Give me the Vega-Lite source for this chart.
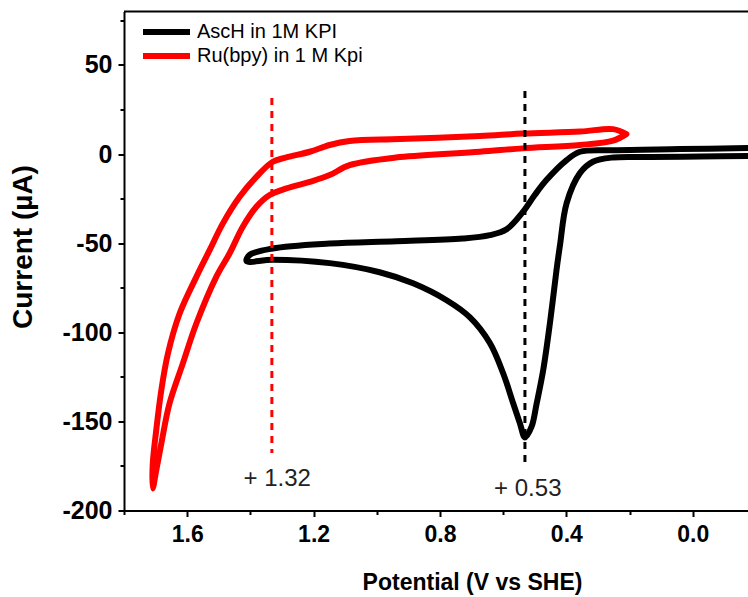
{
  "$schema": "https://vega.github.io/schema/vega-lite/v6.json",
  "width": 624,
  "height": 499,
  "autosize": {"type": "none"},
  "padding": {"left": 124, "top": 11.5, "right": 0, "bottom": 86.5},
  "background": "white",
  "config": {
    "font": "Liberation Sans, Arial",
    "view": {"stroke": null},
    "axis": {
      "domainColor": "black",
      "domainWidth": 2,
      "tickColor": "black",
      "tickWidth": 2,
      "labelColor": "black",
      "labelFont": "Liberation Sans, Arial",
      "labelFontWeight": "bold",
      "labelFontSize": 25,
      "titleFont": "Liberation Sans, Arial",
      "titleFontWeight": "bold",
      "titleColor": "black",
      "grid": false
    }
  },
  "datasets": {
    "cv": [
      {"series": "AscH in 1M KPI", "i": 1, "V": -0.18, "I": -1.1},
      {"series": "AscH in 1M KPI", "i": 2, "V": -0.023, "I": -1.4},
      {"series": "AscH in 1M KPI", "i": 3, "V": 0.135, "I": -1.7},
      {"series": "AscH in 1M KPI", "i": 4, "V": 0.252, "I": -1.9},
      {"series": "AscH in 1M KPI", "i": 5, "V": 0.316, "I": -4.3},
      {"series": "AscH in 1M KPI", "i": 6, "V": 0.357, "I": -10.7},
      {"series": "AscH in 1M KPI", "i": 7, "V": 0.399, "I": -27.5},
      {"series": "AscH in 1M KPI", "i": 8, "V": 0.42, "I": -51},
      {"series": "AscH in 1M KPI", "i": 9, "V": 0.431, "I": -65},
      {"series": "AscH in 1M KPI", "i": 10, "V": 0.452, "I": -95},
      {"series": "AscH in 1M KPI", "i": 11, "V": 0.473, "I": -121},
      {"series": "AscH in 1M KPI", "i": 12, "V": 0.494, "I": -140},
      {"series": "AscH in 1M KPI", "i": 13, "V": 0.51, "I": -153},
      {"series": "AscH in 1M KPI", "i": 14, "V": 0.531, "I": -159},
      {"series": "AscH in 1M KPI", "i": 15, "V": 0.547, "I": -151},
      {"series": "AscH in 1M KPI", "i": 16, "V": 0.568, "I": -140},
      {"series": "AscH in 1M KPI", "i": 17, "V": 0.6, "I": -123},
      {"series": "AscH in 1M KPI", "i": 18, "V": 0.642, "I": -106},
      {"series": "AscH in 1M KPI", "i": 19, "V": 0.705, "I": -91.6},
      {"series": "AscH in 1M KPI", "i": 20, "V": 0.779, "I": -82},
      {"series": "AscH in 1M KPI", "i": 21, "V": 0.885, "I": -72.5},
      {"series": "AscH in 1M KPI", "i": 22, "V": 0.991, "I": -66.3},
      {"series": "AscH in 1M KPI", "i": 23, "V": 1.149, "I": -61.2},
      {"series": "AscH in 1M KPI", "i": 24, "V": 1.33, "I": -59.3},
      {"series": "AscH in 1M KPI", "i": 25, "V": 1.412, "I": -60.1},
      {"series": "AscH in 1M KPI", "i": 26, "V": 1.403, "I": -56.7},
      {"series": "AscH in 1M KPI", "i": 27, "V": 1.33, "I": -53},
      {"series": "AscH in 1M KPI", "i": 28, "V": 1.149, "I": -50.2},
      {"series": "AscH in 1M KPI", "i": 29, "V": 0.938, "I": -48.9},
      {"series": "AscH in 1M KPI", "i": 30, "V": 0.728, "I": -47.4},
      {"series": "AscH in 1M KPI", "i": 31, "V": 0.642, "I": -45.5},
      {"series": "AscH in 1M KPI", "i": 32, "V": 0.589, "I": -42.2},
      {"series": "AscH in 1M KPI", "i": 33, "V": 0.538, "I": -32.6},
      {"series": "AscH in 1M KPI", "i": 34, "V": 0.5, "I": -23},
      {"series": "AscH in 1M KPI", "i": 35, "V": 0.463, "I": -14.6},
      {"series": "AscH in 1M KPI", "i": 36, "V": 0.399, "I": -3.4},
      {"series": "AscH in 1M KPI", "i": 37, "V": 0.357, "I": 1.3},
      {"series": "AscH in 1M KPI", "i": 38, "V": 0.252, "I": 2.2},
      {"series": "AscH in 1M KPI", "i": 39, "V": 0.04, "I": 2.8},
      {"series": "AscH in 1M KPI", "i": 40, "V": -0.18, "I": 3.4},
      {"series": "Ru(bpy) in 1 M Kpi", "i": 1, "V": 0.21, "I": 11.2},
      {"series": "Ru(bpy) in 1 M Kpi", "i": 2, "V": 0.252, "I": 14},
      {"series": "Ru(bpy) in 1 M Kpi", "i": 3, "V": 0.356, "I": 12.6},
      {"series": "Ru(bpy) in 1 M Kpi", "i": 4, "V": 0.538, "I": 11.5},
      {"series": "Ru(bpy) in 1 M Kpi", "i": 5, "V": 0.674, "I": 10.1},
      {"series": "Ru(bpy) in 1 M Kpi", "i": 6, "V": 0.927, "I": 8.4},
      {"series": "Ru(bpy) in 1 M Kpi", "i": 7, "V": 1.086, "I": 7.3},
      {"series": "Ru(bpy) in 1 M Kpi", "i": 8, "V": 1.149, "I": 5.1},
      {"series": "Ru(bpy) in 1 M Kpi", "i": 9, "V": 1.212, "I": 1.3},
      {"series": "Ru(bpy) in 1 M Kpi", "i": 10, "V": 1.286, "I": -1.9},
      {"series": "Ru(bpy) in 1 M Kpi", "i": 11, "V": 1.329, "I": -4.3},
      {"series": "Ru(bpy) in 1 M Kpi", "i": 12, "V": 1.381, "I": -12.8},
      {"series": "Ru(bpy) in 1 M Kpi", "i": 13, "V": 1.434, "I": -24},
      {"series": "Ru(bpy) in 1 M Kpi", "i": 14, "V": 1.487, "I": -38.9},
      {"series": "Ru(bpy) in 1 M Kpi", "i": 15, "V": 1.529, "I": -53.9},
      {"series": "Ru(bpy) in 1 M Kpi", "i": 16, "V": 1.571, "I": -68.9},
      {"series": "Ru(bpy) in 1 M Kpi", "i": 17, "V": 1.624, "I": -89.5},
      {"series": "Ru(bpy) in 1 M Kpi", "i": 18, "V": 1.661, "I": -112},
      {"series": "Ru(bpy) in 1 M Kpi", "i": 19, "V": 1.682, "I": -132.6},
      {"series": "Ru(bpy) in 1 M Kpi", "i": 20, "V": 1.698, "I": -155},
      {"series": "Ru(bpy) in 1 M Kpi", "i": 21, "V": 1.709, "I": -173.8},
      {"series": "Ru(bpy) in 1 M Kpi", "i": 22, "V": 1.709, "I": -187.6},
      {"series": "Ru(bpy) in 1 M Kpi", "i": 23, "V": 1.698, "I": -177.5},
      {"series": "Ru(bpy) in 1 M Kpi", "i": 24, "V": 1.682, "I": -162.5},
      {"series": "Ru(bpy) in 1 M Kpi", "i": 25, "V": 1.656, "I": -140},
      {"series": "Ru(bpy) in 1 M Kpi", "i": 26, "V": 1.614, "I": -117.6},
      {"series": "Ru(bpy) in 1 M Kpi", "i": 27, "V": 1.571, "I": -95.1},
      {"series": "Ru(bpy) in 1 M Kpi", "i": 28, "V": 1.508, "I": -68.9},
      {"series": "Ru(bpy) in 1 M Kpi", "i": 29, "V": 1.466, "I": -55.8},
      {"series": "Ru(bpy) in 1 M Kpi", "i": 30, "V": 1.424, "I": -40.8},
      {"series": "Ru(bpy) in 1 M Kpi", "i": 31, "V": 1.381, "I": -29.6},
      {"series": "Ru(bpy) in 1 M Kpi", "i": 32, "V": 1.339, "I": -23},
      {"series": "Ru(bpy) in 1 M Kpi", "i": 33, "V": 1.286, "I": -19.3},
      {"series": "Ru(bpy) in 1 M Kpi", "i": 34, "V": 1.212, "I": -15.6},
      {"series": "Ru(bpy) in 1 M Kpi", "i": 35, "V": 1.149, "I": -11.8},
      {"series": "Ru(bpy) in 1 M Kpi", "i": 36, "V": 1.086, "I": -6.2},
      {"series": "Ru(bpy) in 1 M Kpi", "i": 37, "V": 0.927, "I": -1.7},
      {"series": "Ru(bpy) in 1 M Kpi", "i": 38, "V": 0.674, "I": 1.3},
      {"series": "Ru(bpy) in 1 M Kpi", "i": 39, "V": 0.538, "I": 3.2},
      {"series": "Ru(bpy) in 1 M Kpi", "i": 40, "V": 0.356, "I": 5.1},
      {"series": "Ru(bpy) in 1 M Kpi", "i": 41, "V": 0.252, "I": 7.6},
      {"series": "Ru(bpy) in 1 M Kpi", "i": 42, "V": 0.21, "I": 11.2}
    ],
    "marks": [
      {"name": "AscH", "V": 0.531, "I": 35.4, "I2": -176},
      {"name": "Ru", "V": 1.332, "I": 31.4, "I2": -167.8}
    ],
    "labels": [
      {"label": "+ 1.32", "V": 1.315, "I": -186},
      {"label": "+ 0.53", "V": 0.522, "I": -192}
    ]
  },
  "layer": [
    {
      "data": {"values": [{"edge": "top"}]},
      "mark": {"type": "rule", "color": "black", "strokeWidth": 2},
      "encoding": {"y": {"datum": 80}}
    },
    {
      "data": {"name": "cv"},
      "mark": {"type": "line", "strokeWidth": 6, "interpolate": "catmull-rom", "clip": true, "strokeCap": "round", "strokeJoin": "round"},
      "encoding": {
        "x": {
          "field": "V", "type": "quantitative",
          "scale": {"domain": [-0.175, 1.8], "reverse": true, "nice": false, "zero": false},
          "axis": {
            "title": "Potential (V vs SHE)",
            "titleFontSize": 23,
            "titleX": 348,
            "titleY": 79,
            "titleAlign": "center",
            "titleBaseline": "alphabetic",
            "values": [1.8, 1.6, 1.4, 1.2, 1.0, 0.8, 0.6, 0.4, 0.2, 0.0],
            "labelExpr": "indexof(['1.6','1.2','0.8','0.4','0.0'], format(datum.value,'.1f')) >= 0 ? format(datum.value,'.1f') : ''",
            "tickSize": {"condition": {"test": "indexof(['1.6','1.2','0.8','0.4','0.0'], format(datum.value,'.1f')) >= 0", "value": 6}, "value": 4},
            "labelFontSize": 23,
            "labelPadding": 7,
            "labelFlush": false,
            "labelOverlap": false
          }
        },
        "y": {
          "field": "I", "type": "quantitative",
          "scale": {"domain": [-200, 80], "nice": false, "zero": false},
          "axis": {
            "title": "Current (µA)",
            "titleFontSize": 28,
            "titleAngle": -90,
            "titleX": -101,
            "titleY": 235,
            "titleAlign": "center",
            "titleBaseline": "middle",
            "values": [75, 50, 25, 0, -25, -50, -75, -100, -125, -150, -175, -200],
            "labelExpr": "datum.value % 50 == 0 ? toString(datum.value) : ''",
            "tickSize": {"condition": {"test": "datum.value % 50 == 0", "value": 6}, "value": 4},
            "labelPadding": 6,
            "labelFlush": false,
            "labelOverlap": false
          }
        },
        "color": {
          "field": "series", "type": "nominal",
          "scale": {"domain": ["AscH in 1M KPI", "Ru(bpy) in 1 M Kpi"], "range": ["#000000", "#ff0000"]},
          "legend": {
            "title": null,
            "orient": "none",
            "legendX": 16,
            "legendY": 10.5,
            "symbolType": "stroke",
            "symbolSize": 2209,
            "symbolStrokeWidth": 6,
            "labelFontSize": 20,
            "labelFont": "Liberation Sans, Arial",
            "labelColor": "black",
            "labelLimit": 400,
            "labelOffset": 4,
            "clipHeight": 20,
            "rowPadding": 4,
            "padding": 0
          }
        },
        "order": {"field": "i", "type": "quantitative"}
      }
    },
    {
      "data": {"name": "marks"},
      "transform": [{"filter": "datum.name == 'AscH'"}],
      "mark": {"type": "rule", "color": "black", "strokeWidth": 3, "strokeDash": [7, 6]},
      "encoding": {
        "x": {"field": "V", "type": "quantitative"},
        "y": {"field": "I", "type": "quantitative"},
        "y2": {"field": "I2"}
      }
    },
    {
      "data": {"name": "marks"},
      "transform": [{"filter": "datum.name == 'Ru'"}],
      "mark": {"type": "rule", "color": "#ff0000", "strokeWidth": 3, "strokeDash": [7, 6]},
      "encoding": {
        "x": {"field": "V", "type": "quantitative"},
        "y": {"field": "I", "type": "quantitative"},
        "y2": {"field": "I2"}
      }
    },
    {
      "data": {"name": "labels"},
      "mark": {"type": "text", "font": "Liberation Sans, Arial", "fontSize": 24, "color": "#222222", "align": "center", "baseline": "alphabetic"},
      "encoding": {
        "x": {"field": "V", "type": "quantitative"},
        "y": {"field": "I", "type": "quantitative"},
        "text": {"field": "label"}
      }
    }
  ]
}
